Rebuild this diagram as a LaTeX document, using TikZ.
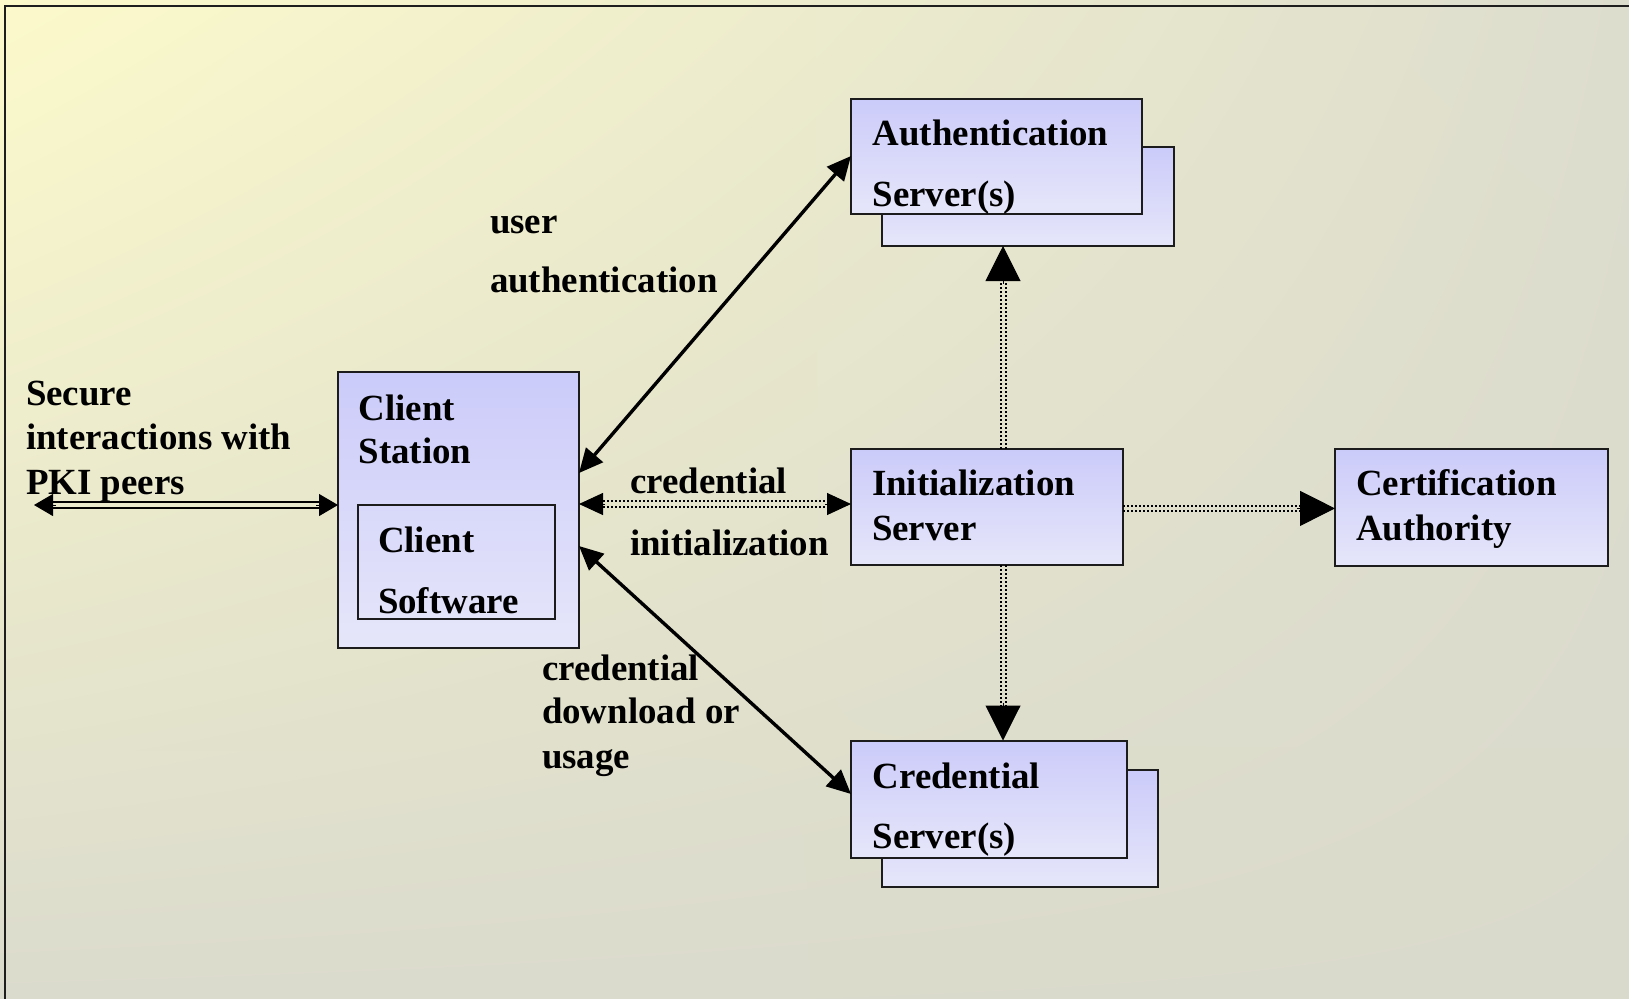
\documentclass[tikz,border=0pt]{standalone}
\usepackage{fontspec}
\setmainfont{Liberation Serif}
\usetikzlibrary{arrows.meta,calc,shadings}
\definecolor{bgTL}{HTML}{FCFACB}
\definecolor{bgTR}{HTML}{DDDDCE}
\definecolor{bgBL}{HTML}{DBDBCD}
\definecolor{bgBR}{HTML}{DADACC}
\definecolor{framec}{HTML}{1E1E1E}
\definecolor{boxline}{HTML}{1C1C1C}
\definecolor{boxtop}{HTML}{CBCBFA}
\definecolor{boxbot}{HTML}{E6E6FA}
\begin{document}
\begin{tikzpicture}[x=0.5pt,y=-0.5pt,
  box/.style={draw=boxline,line width=1pt,top color=boxtop,bottom color=boxbot,inner sep=0pt,outer sep=0pt},
  plainbox/.style={draw=boxline,line width=1pt,inner sep=0pt,outer sep=0pt},
  lbl/.style={anchor=base west,inner sep=0pt,outer sep=0pt,font=\fontsize{18.45pt}{22pt}\selectfont\bfseries},
  solidarrow/.style={line width=1.7pt,{Triangle[length=12pt,width=11pt]}-{Triangle[length=12pt,width=11pt]}},
  dotl/.style={line width=1pt,dash pattern=on 1pt off 1pt},
  twoline/.style={line width=0.8pt},
  bigtip/.style={-{Triangle[length=17.5pt,width=17.5pt]},line width=0.5pt},
  midtip/.style={-{Triangle[length=12pt,width=11pt]},line width=0.5pt},
  pkitip/.style={-{Triangle[length=9.5pt,width=11pt]},line width=0.5pt},
]
% background
\shade[upper left=bgTL,upper right=bgTR,lower left=bgBL,lower right=bgBR] (0,0) rectangle (1629,998);
\useasboundingbox (0,0) rectangle (1629,998);
\draw[line width=1pt,framec] (5,1005) -- (5,6) -- (1640,6);

% boxes
\node[box,minimum width=145.75pt,minimum height=49.5pt] (authb) at (1027.75,196.5) {};
\node[box,minimum width=145.5pt,minimum height=57.5pt] (auth) at (996.5,156) {};
\node[box,minimum width=120.5pt,minimum height=138pt] (client) at (458.5,510) {};
\node[plainbox,minimum width=98.75pt,minimum height=57pt] (soft) at (456.25,562) {};
\node[box,minimum width=136pt,minimum height=58pt] (init) at (987,507) {};
\node[box,minimum width=136.25pt,minimum height=58.5pt] (ca) at (1471.25,507.5) {};
\node[box,minimum width=137.75pt,minimum height=58.5pt] (credb) at (1019.75,828) {};
\node[box,minimum width=137.75pt,minimum height=58.75pt] (cred) at (988.75,799.25) {};

% box texts
\node[lbl] (tAuth1) at (872.7,145) {Authentication};
\node[lbl] (tAuth2) at (872.7,206) {Server(s)};
\node[lbl] (tCli1) at (358.5,420) {Client};
\node[lbl] (tCli2) at (358.5,463) {Station};
\node[lbl] (tSoft1) at (378,552) {Client};
\node[lbl] (tSoft2) at (378,613) {Software};
\node[lbl] (tInit1) at (872,495) {Initialization};
\node[lbl] (tInit2) at (872,540) {Server};
\node[lbl] (tCA1) at (1356,495) {Certification};
\node[lbl] (tCA2) at (1356,540.5) {Authority};
\node[lbl] (tCred1) at (872.7,788) {Credential};
\node[lbl] (tCred2) at (872.7,848) {Server(s)};

% free labels
\node[lbl] (tUser) at (490,233) {user};
\node[lbl] (tAuthn) at (490,292) {authentication};
\node[lbl] (tCi1) at (630,493) {credential};
\node[lbl] (tCi2) at (630,555) {initialization};
\node[lbl] (tSec1) at (26,405) {Secure};
\node[lbl] (tSec2) at (26,449) {interactions with};
\node[lbl] (tSec3) at (26,494) {PKI peers};
\node[lbl] (tCd1) at (542,680) {credential};
\node[lbl] (tCd2) at (542,723) {download or};
\node[lbl] (tCd3) at (542,768) {usage};

% helper coordinates
\coordinate (pkiL) at (34,505);
\coordinate (cuy) at (0,473);
\coordinate (cdy) at (0,546);
\coordinate (cwy) at (0,794);
\coordinate (ciy) at (0,504);
\coordinate (vx) at (1003,0);
\coordinate (hy) at (0,508.4);

% PKI double arrow
\draw[twoline] ($(pkiL)+(16,-3)$) -- ($(client.west |- pkiL)+(-16,-3)$);
\draw[twoline] ($(pkiL)+(16,3)$) -- ($(client.west |- pkiL)+(-16,3)$);
\draw[pkitip] ($(pkiL)+(22,0)$) -- (pkiL);
\draw[pkitip] ($(client.west |- pkiL)+(-22,0)$) -- (client.west |- pkiL);

% solid diagonal arrows
\draw[solidarrow] (client.east |- cuy) -- (auth.west);
\draw[solidarrow] (client.east |- cdy) -- (cred.west |- cwy);

% credential initialization (dotted double)
\draw[dotl] ($(client.east |- ciy)+(20,-3)$) -- ($(init.west |- ciy)+(-20,-3)$);
\draw[dotl] ($(client.east |- ciy)+(20,3)$) -- ($(init.west |- ciy)+(-20,3)$);
\draw[midtip] ($(client.east |- ciy)+(26,0)$) -- (client.east |- ciy);
\draw[midtip] ($(init.west |- ciy)+(-26,0)$) -- (init.west |- ciy);

% init -> auth
\draw[dotl] ($(init.north -| vx)+(-2.5,0)$) -- ($(authb.south -| vx)+(-2.5,32)$);
\draw[dotl] ($(init.north -| vx)+(2.5,0)$) -- ($(authb.south -| vx)+(2.5,32)$);
\draw[bigtip] ($(authb.south -| vx)+(0,38)$) -- (authb.south -| vx);

% init -> credential
\draw[dotl] ($(init.south -| vx)+(-2.5,0)$) -- ($(cred.north -| vx)+(-2.5,-32)$);
\draw[dotl] ($(init.south -| vx)+(2.5,0)$) -- ($(cred.north -| vx)+(2.5,-32)$);
\draw[bigtip] ($(cred.north -| vx)+(0,-38)$) -- (cred.north -| vx);

% init -> CA
\draw[dotl] ($(init.east |- hy)+(0,-2.5)$) -- ($(ca.west |- hy)+(-32,-2.5)$);
\draw[dotl] ($(init.east |- hy)+(0,2.5)$) -- ($(ca.west |- hy)+(-32,2.5)$);
\draw[bigtip] ($(ca.west |- hy)+(-38,0)$) -- (ca.west |- hy);
\end{tikzpicture}
\end{document}
